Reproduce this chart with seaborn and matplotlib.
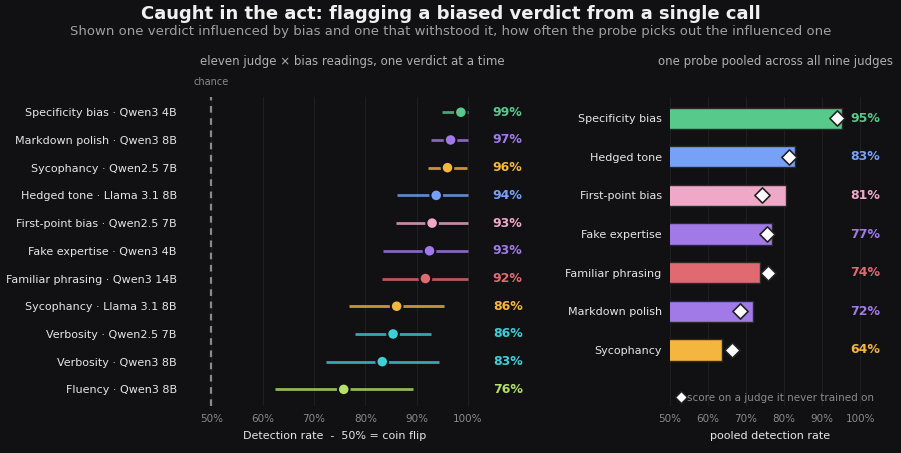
import matplotlib
matplotlib.use("Agg")
import matplotlib.pyplot as plt
import seaborn as sns
import pandas as pd
from matplotlib.lines import Line2D

# ---- data ----
left_labels = ["Specificity bias · Qwen3 4B", "Markdown polish · Qwen3 8B", "Sycophancy · Qwen2.5 7B",
               "Hedged tone · Llama 3.1 8B", "First-point bias · Qwen2.5 7B", "Fake expertise · Qwen3 4B",
               "Familiar phrasing · Qwen3 14B", "Sycophancy · Llama 3.1 8B", "Verbosity · Qwen2.5 7B",
               "Verbosity · Qwen3 8B", "Fluency · Qwen3 8B"]
left_rate = [98.6, 96.6, 96.0, 93.8, 93.0, 92.5, 91.7, 86.1, 85.4, 83.3, 75.8]
left_lo = [95.0, 92.7, 92.2, 86.1, 86.0, 83.5, 83.2, 76.9, 78.0, 72.3, 62.5]
left_hi = [100, 100, 99.8, 100, 100, 100, 100, 95.4, 92.8, 94.4, 89.2]
left_text = ["99%", "97%", "96%", "94%", "93%", "93%", "92%", "86%", "86%", "83%", "76%"]
left_colors = ["#57c98a", "#a27ae8", "#f5b63f", "#77a1f7", "#f0a8c8", "#a27ae8", "#e06a72",
               "#f5b63f", "#3ccfd6", "#3ccfd6", "#b5e06a"]

right_labels = ["Specificity bias", "Hedged tone", "First-point bias", "Fake expertise",
                "Familiar phrasing", "Markdown polish", "Sycophancy"]
right_rate = [95.2, 83.0, 80.5, 76.8, 73.8, 71.8, 63.8]
right_heldout = [93.9, 81.3, 74.2, 75.4, 75.9, 68.4, 66.4]
right_text = ["95%", "83%", "81%", "77%", "74%", "72%", "64%"]
right_colors = ["#57c98a", "#77a1f7", "#f0a8c8", "#a27ae8", "#e06a72", "#a27ae8", "#f5b63f"]

ticks = [50, 60, 70, 80, 90, 100]
tick_labels = ["50%", "60%", "70%", "80%", "90%", "100%"]

BG = "#111113"
GRID = "#1f1f23"
sns.set_theme(style="dark")
plt.rcParams["font.family"] = ["DejaVu Sans"]
fig = plt.figure(figsize=(9.01, 4.53), dpi=100, facecolor=BG)
W, H = 901, 453

def ax_px(l, t, r, b):
    return fig.add_axes([l / W, 1 - b / H, (r - l) / W, (b - t) / H])

# ---- left ----
axL = ax_px(185, 97, 485, 406)
axL.set_facecolor(BG)
dfL = pd.DataFrame({"label": left_labels, "rate": left_rate, "lo": left_lo, "hi": left_hi})
axL.set_xlim(44.9, 103.3)
axL.set_ylim(len(left_labels) - 0.4, -0.55)
for t in ticks:
    axL.axvline(t, color=GRID, lw=0.8, zorder=0)
axL.axvline(50, color="#8a8a8e", lw=1.6, ls=(0, (3, 2.5)), zorder=1)
for i in range(len(dfL)):
    axL.hlines(i, left_lo[i], left_hi[i], color=left_colors[i], lw=2, alpha=0.8, zorder=2)
sns.scatterplot(data=dfL, x="rate", y=range(len(dfL)), hue="label", palette=left_colors,
                s=70, edgecolor=BG, linewidth=1.5, legend=False, ax=axL, zorder=3)
for i, t in enumerate(left_text):
    axL.text(110.6, i, t, color=left_colors[i], fontsize=9, fontweight="bold",
             va="center", ha="right", clip_on=False)
axL.set_yticks(range(len(left_labels)))
axL.set_yticklabels(left_labels, color="#e6e6e6", fontsize=8)
axL.set_xticks(ticks)
axL.set_xticklabels(tick_labels, color="#8a8a8e", fontsize=7.5)
axL.tick_params(length=0, pad=6)
axL.set_xlabel("Detection rate  -  50% = coin flip", color="#e6e6e6", fontsize=8, labelpad=5)
axL.set_ylabel("")
for s in axL.spines.values():
    s.set_visible(False)
axL.text(50, -0.9, "chance", color="#8a8a8e", fontsize=7, ha="center", va="bottom", clip_on=False)
fig.text(352 / W, 1 - 62 / H, "eleven judge × bias readings, one verdict at a time", color="#b0b0b4",
         fontsize=8.5, ha="center", va="center")

# ---- right ----
axR = ax_px(670, 97, 870, 406)
axR.set_facecolor(BG)
dfR = pd.DataFrame({"label": right_labels, "rate": right_rate, "held": right_heldout})
for t in ticks:
    axR.axvline(t, color=GRID, lw=0.8, zorder=0)
sns.barplot(data=dfR, x="rate", y="label", hue="label", palette=right_colors, legend=False,
            saturation=1, width=0.55, edgecolor="#2a2a2a", linewidth=1, ax=axR, zorder=2)
sns.scatterplot(data=dfR, x="held", y="label", marker="D", s=60, color="white",
                edgecolor="#222", linewidth=1.2, ax=axR, zorder=4, legend=False)
axR.set_xlim(50, 102.6)
axR.set_ylim(7.45, -0.55)
for i, t in enumerate(right_text):
    axR.text(105.3, i, t, color=right_colors[i], fontsize=9, fontweight="bold",
             va="center", ha="right", clip_on=False)
axR.set_xticks(ticks)
axR.set_xticklabels(tick_labels, color="#8a8a8e", fontsize=7.5)
axR.tick_params(length=0, pad=6)
axR.set_yticklabels(right_labels, color="#e6e6e6", fontsize=8)
axR.set_xlabel("pooled detection rate", color="#e6e6e6", fontsize=8, labelpad=5)
axR.set_ylabel("")
for s in axR.spines.values():
    s.set_visible(False)
h = Line2D([], [], marker="D", color="none", markerfacecolor="white", markeredgecolor="#222",
           markersize=6.5)
axR.legend([h], ["score on a judge it never trained on"], loc="lower left",
           bbox_to_anchor=(-0.01, -0.01), frameon=False, fontsize=7.5, labelcolor="#8a8a8e",
           handletextpad=0.0, handlelength=1.2, borderaxespad=0.2)
fig.text(776 / W, 1 - 62 / H, "one probe pooled across all nine judges", color="#b0b0b4",
         fontsize=8.5, ha="center", va="center")

fig.text(0.5, 1 - 14 / H, "Caught in the act: flagging a biased verdict from a single call",
         color="#f0f0f0", fontsize=13, fontweight="bold", ha="center", va="center")
fig.text(0.5, 1 - 32 / H, "Shown one verdict influenced by bias and one that withstood it, how often the probe picks out the influenced one",
         color="#a0a0a4", fontsize=9.5, ha="center", va="center")

fig.savefig("out.png", dpi=100, facecolor=BG)
